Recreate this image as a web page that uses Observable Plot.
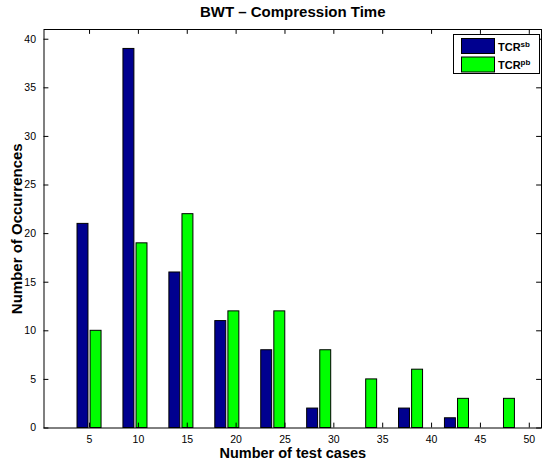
<!DOCTYPE html>
<html>
<head>
<meta charset="utf-8">
<script src="https://cdn.jsdelivr.net/npm/d3@7"></script>
<script src="https://cdn.jsdelivr.net/npm/@observablehq/plot@0.6"></script>
<style>
  html, body { margin: 0; padding: 0; background: #fff; }
  #chart { width: 542px; height: 463px; }
</style>
</head>
<body>
<div id="chart"></div>
<script>
// ---- data ----
const binCenters = [5.0, 9.7, 14.4, 19.1, 23.8, 28.5, 33.2, 37.9, 42.6, 47.3];
const tcrSB = [21, 39, 16, 11, 8, 2, 0, 2, 1, 0];
const tcrPB = [10, 19, 22, 12, 12, 8, 5, 6, 3, 3];
const seriesBase = ["TCR", "TCR"];
const seriesSup = ["sb", "pb"];
const seriesColors = ["#00008f", "#00ff00"];
const xTicks = [5, 10, 15, 20, 25, 30, 35, 40, 45, 50];
const yTicks = [0, 5, 10, 15, 20, 25, 30, 35, 40];
const titleText = "BWT \u2013 Compression Time";
const xLabelText = "Number of test cases";
const yLabelText = "Number of Occurrences";

// ---- layout ----
const W = 542, H = 463;
const xDomain = [0.34, 51.25];
const yDomain = [0, 41];
const FONT = "'Liberation Sans', Arial, Helvetica, sans-serif";

const rows = binCenters.map((c, i) => ({c, sb: tcrSB[i], pb: tcrPB[i]}));
const barW = 1.12, gap = 0.11;

const plot = Plot.plot({
  width: W,
  height: H,
  marginLeft: 43.5,
  marginRight: 1,
  marginTop: 29,
  marginBottom: 35.5,
  style: {fontFamily: FONT, fontSize: "10.5px", color: "#000", background: "#fff"},
  x: {domain: xDomain, label: null},
  y: {domain: yDomain, label: null},
  marks: [
    Plot.rectY(rows, {x1: d => d.c - gap - barW, x2: d => d.c - gap, y1: 0, y2: "sb",
      fill: seriesColors[0], stroke: "#000", strokeWidth: 1}),
    Plot.rectY(rows, {x1: d => d.c + gap, x2: d => d.c + gap + barW, y1: 0, y2: "pb",
      fill: seriesColors[1], stroke: "#000", strokeWidth: 1}),
    Plot.frame({stroke: "#000", strokeWidth: 1}),
    // inward ticks (bottom/top, left/right)
    Plot.ruleX(xTicks, {x: d => d, y1: yDomain[0], y2: yDomain[0] + 0.5, stroke: "#000"}),
    Plot.ruleX(xTicks, {x: d => d, y1: yDomain[1], y2: yDomain[1] - 0.5, stroke: "#000"}),
    Plot.ruleY(yTicks, {y: d => d, x1: xDomain[0], x2: xDomain[0] + 0.5, stroke: "#000"}),
    Plot.ruleY(yTicks, {y: d => d, x1: xDomain[1], x2: xDomain[1] - 0.5, stroke: "#000"}),
    Plot.axisX({ticks: xTicks, tickSize: 0, tickPadding: 7.5, fontSize: 10.5, label: null}),
    Plot.axisY({ticks: yTicks, tickSize: 0, tickPadding: 8, fontSize: 10.5, label: null}),
    Plot.text([titleText], {text: d => d, frameAnchor: "top", dy: -17, lineAnchor: "middle",
      fontSize: 15, fontWeight: "bold", textAnchor: "middle"}),
    Plot.text([xLabelText], {text: d => d, frameAnchor: "bottom", dy: 25, lineAnchor: "middle",
      fontSize: 14.5, fontWeight: "bold", textAnchor: "middle"}),
    Plot.text([yLabelText], {text: d => d, frameAnchor: "left", dx: -27, rotate: -90,
      lineAnchor: "middle", fontSize: 15, fontWeight: "bold", textAnchor: "middle"})
  ]
});

document.getElementById("chart").appendChild(plot);

// ---- legend (top-right box) ----
const svg = d3.select(plot);
const lg = svg.append("g").attr("font-family", FONT).attr("text-anchor", "start");
lg.append("rect").attr("x", 453.5).attr("y", 34.5).attr("width", 86).attr("height", 39)
  .attr("fill", "#fff").attr("stroke", "#000").attr("stroke-width", 1);
seriesBase.forEach((name, i) => {
  const y0 = 38.5 + i * 18.5;
  lg.append("rect").attr("x", 461.5).attr("y", y0).attr("width", 33).attr("height", 15)
    .attr("fill", seriesColors[i]).attr("stroke", "#000").attr("stroke-width", 1);
  const t = lg.append("text").attr("x", 498).attr("y", y0 + 12)
    .attr("text-anchor", "start")
    .attr("font-size", 11).attr("font-weight", "bold").attr("fill", "#000");
  t.append("tspan").text(name);
  t.append("tspan").attr("font-size", 8).attr("dy", -4).text(seriesSup[i]);
});
</script>
</body>
</html>
